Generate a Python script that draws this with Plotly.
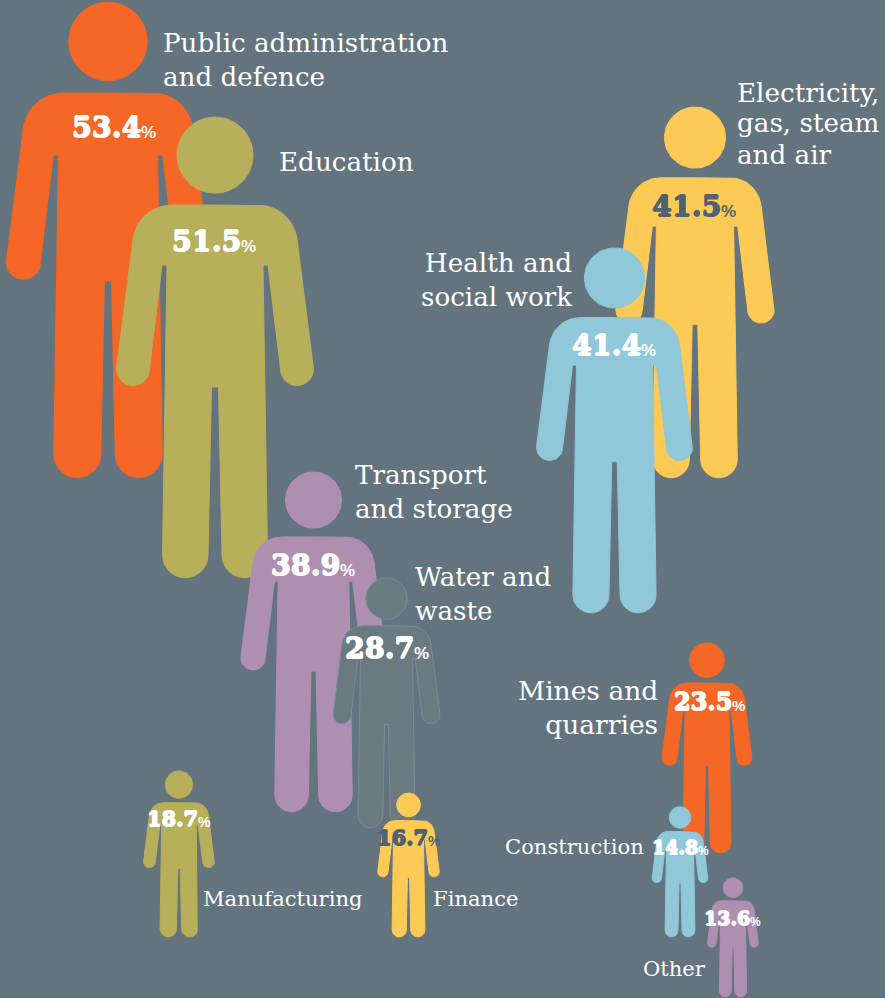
import numpy as np
import plotly.graph_objects as go

# ---- data
categories = ["Public administration and defence", "Education", "Electricity, gas, steam and air",
              "Health and social work", "Transport and storage", "Water and waste",
              "Mines and quarries", "Construction", "Other", "Manufacturing", "Finance"]
values = [53.4, 51.5, 41.5, 41.4, 38.9, 28.7, 23.5, 14.8, 13.6, 18.7, 16.7]

# ---- layout of the pictogram (one entry per category)
BG = "#64747f"
ORANGE, OLIVE, YELLOW, BLUE, PURPLE, GREY = "#f46726", "#b8af5a", "#fdcb55", "#90c7d9", "#af8fb1", "#6a7a81"
DARK = "#4f6274"
colors = [ORANGE, OLIVE, YELLOW, BLUE, PURPLE, GREY, ORANGE, BLUE, PURPLE, OLIVE, YELLOW]
center_x = [108, 215, 695, 614.5, 313.5, 386.5, 707, 680, 733, 179, 408.5]
feet_y = [478, 578, 478, 613, 812, 828, 853, 937, 997, 937, 937]
# the original's people are scaled by hand, so pixels per point differ a little
px_per_point = [8.91, 8.95, 8.94, 8.82, 8.74, 8.71, 8.94, 8.8, 8.75, 8.88, 8.62]

# category captions (the three-line one is set line by line for its tighter leading)
label_lines = ["Public administration<br>and defence", "Education",
               "Electricity,", "gas, steam", "and air",
               "Health and<br>social work", "Transport<br>and storage", "Water and<br>waste",
               "Mines and<br>quarries", "Construction", "Other", "Manufacturing", "Finance"]
label_x = [161, 277, 735, 735, 735, 575, 353, 413, 660, 646, 708, 201, 431]
label_y = [60, 162, 93, 123, 155, 280, 492, 594, 707, 846, 968, 898, 898]
label_anchor = ["left", "left", "left", "left", "left", "right", "left", "left", "right", "right", "right", "left", "left"]
label_size = [26.2, 26.2, 26.2, 26.2, 26.2, 26.2, 26.2, 26.2, 26.5, 21.1, 21.1, 21.1, 21.1]

# x where each number ends and its % sign starts
value_join = [140.5, 240.5, 720.5, 640.5, 339.5, 413.5, 731.5, 697.5, 749.5, 197.5, 427.5]
value_y = [127, 241, 206, 345, 565, 648, 701, 847, 918, 818, 837]
value_size = [28.5, 28.5, 28.5, 28.5, 28.5, 28.5, 24, 19, 19, 21, 21]
pct_size = [17, 17, 17, 17, 17, 17, 15, 12, 12, 14, 14]
value_color = ["white", "white", DARK, "white", "white", "white", "white", "white", "white", "white", DARK]


def arc(cx, cy, r, a0, a1, n=24):
    t = np.radians(np.linspace(a0, a1, n))
    return cx + r * np.cos(t), cy + r * np.sin(t)


def bez(p0, p1, p2, p3, n=20):
    t = np.linspace(0, 1, n)[:, None]
    p = (1-t)**3*np.array(p0) + 3*(1-t)**2*t*np.array(p1) + 3*(1-t)*t**2*np.array(p2) + t**3*np.array(p3)
    return p[:, 0], p[:, 1]


def glyph():
    """Unit person, height 1, measured from the top of the head; x relative to the centre."""
    H = 461.0
    xs, ys = [np.array([0, 42.0])], [np.array([88.0, 88.0])]
    bx, by = bez((42, 88), (66, 88), (82, 105), (83, 130))
    xs.append(bx); ys.append(by)
    xs.append(np.array([98.5])); ys.append(np.array([252.0]))
    ax, ay = arc(82, 252, 16.5, 0, 180)  # hand
    xs.append(ax); ys.append(ay)
    xs.append(np.array([53, 48])); ys.append(np.array([148.0, 148.0]))  # armpit
    xs.append(np.array([52.5])); ys.append(np.array([438.0]))  # outer leg
    ax, ay = arc(29.75, 438, 22.75, 0, 180)
    xs.append(ax); ys.append(ay)
    xs.append(np.array([3.5, 0])); ys.append(np.array([270.0, 270.0]))  # crotch
    x = np.concatenate(xs); y = np.concatenate(ys)
    bodyx = np.concatenate([x, -x[::-1]]); bodyy = np.concatenate([y, y[::-1]])
    hx, hy = arc(0, 38, 38, 0, 360, 72)
    return hx / H, hy / H, bodyx / H, bodyy / H


hx, hy, bx, by = glyph()

fig = go.Figure()
for name, v, col, cx, fy, k in zip(categories, values, colors, center_x, feet_y, px_per_point):
    h = v * k
    top = fy - h
    X = np.concatenate([cx + hx * h, [None], cx + bx * h])
    Y = np.concatenate([top + hy * h, [None], top + by * h])
    outline = "#7c8b93" if col == GREY else col
    fig.add_trace(go.Scatter(x=X, y=Y, mode="lines", fill="toself", fillcolor=col, name=name,
                             line=dict(color=outline, width=1), hoverinfo="skip", showlegend=False))

SERIF = "DejaVu Serif"
for txt, x, y, a, s in zip(label_lines, label_x, label_y, label_anchor, label_size):
    fig.add_annotation(x=x, y=y, text=txt, showarrow=False, xanchor=a, yanchor="middle", align=a,
                       font=dict(family=SERIF, size=s, color="white"))
for v, x, y, s, p, c in zip(values, value_join, value_y, value_size, pct_size, value_color):
    fig.add_annotation(x=x + 2, y=y, text=f"<b>{v:.1f}</b>", showarrow=False, xanchor="right", yanchor="middle",
                       font=dict(family=SERIF, size=s, color=c,
                                 shadow=f"0.7px 0 0 {c}, -0.7px 0 0 {c}, 0 0.7px 0 {c}, 0 -0.7px 0 {c}"))
    fig.add_annotation(x=x - 2, y=y + 0.2 * s, text="<b>%</b>", showarrow=False, xanchor="left", yanchor="middle",
                       font=dict(family="Liberation Sans", size=p, color=c))

fig.update_layout(width=885, height=998, margin=dict(l=0, r=0, t=0, b=0), paper_bgcolor=BG, plot_bgcolor=BG,
                  showlegend=False,
                  xaxis=dict(range=[0, 885], visible=False, fixedrange=True),
                  yaxis=dict(range=[998, 0], visible=False, fixedrange=True))

fig.write_html("out.html", config=dict(displayModeBar=False),
               post_script=f"document.body.style.margin='0';document.body.style.background='{BG}';document.documentElement.style.overflow='hidden';")
